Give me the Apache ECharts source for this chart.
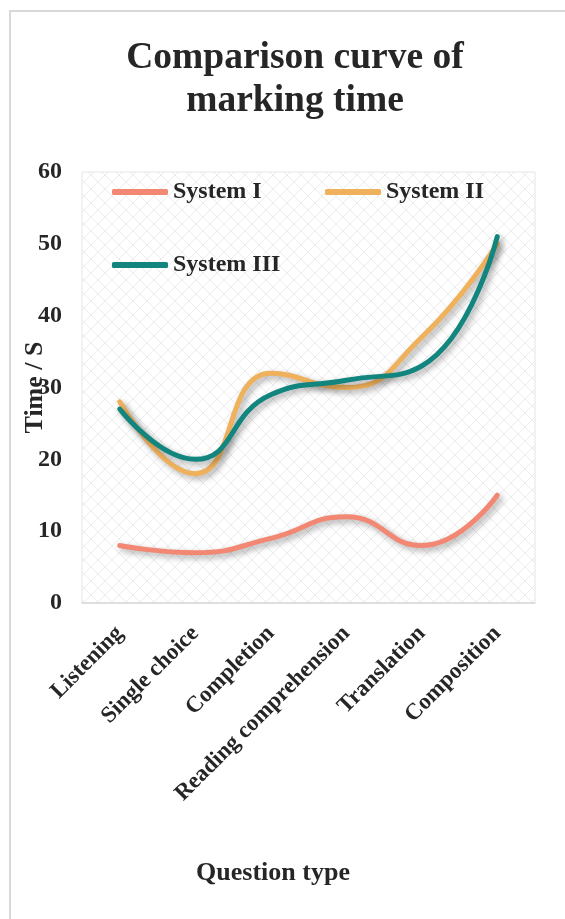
<!DOCTYPE html>
<html>
<head>
<meta charset="utf-8">
<script src="https://cdn.jsdelivr.net/npm/echarts@6/dist/echarts.min.js"></script>
<style>
  html, body { margin: 0; padding: 0; background: #fff; }
  #frame { position: absolute; left: 9px; top: 10px; width: 600px; height: 950px; border: 2px solid #d9d9d9; box-sizing: border-box; }
  #chart { position: absolute; left: 0; top: 0; width: 565px; height: 919px; }
</style>
</head>
<body>
<div id="frame"></div>
<div id="chart"></div>
<script>
// Question types along the x axis
const categories = ['Listening', 'Single choice', 'Completion', 'Reading comprehension', 'Translation', 'Composition'];
// Marking time (seconds) per system
const systemI = [8, 7, 9, 12, 8, 15];
const systemII = [28, 18, 32, 30, 37, 50];
const systemIII = [27, 20, 29, 31, 33, 51];
const yTicks = [0, 10, 20, 30, 40, 50, 60];

const FONT = '"Liberation Serif", "Times New Roman", serif';
const TEXT = '#262626';

// Light diagonal crosshatch for the plot background
function hatch() {
  const s = 14;
  const c = document.createElement('canvas');
  c.width = s; c.height = s;
  const g = c.getContext('2d');
  g.fillStyle = '#ffffff';
  g.fillRect(0, 0, s, s);
  g.strokeStyle = '#ececec';
  g.lineWidth = 1;
  g.beginPath();
  g.moveTo(0, 0); g.lineTo(s, s);
  g.moveTo(s, 0); g.lineTo(0, s);
  g.stroke();
  return c;
}

const chart = echarts.init(document.getElementById('chart'), null, { renderer: 'canvas' });

function lineSeries(name, data, color) {
  return {
    name: name,
    type: 'line',
    data: data,
    smooth: 0.5,
    showSymbol: false,
    color: color,
    lineStyle: {
      width: 5,
      color: color,
      cap: 'round',
      shadowColor: 'rgba(0,0,0,0.35)',
      shadowBlur: 6,
      shadowOffsetX: 3,
      shadowOffsetY: 3
    },
    emphasis: { disabled: true }
  };
}

const legendCommon = {
  icon: 'roundRect',
  itemWidth: 56,
  itemHeight: 6,
  itemGap: 4,
  textStyle: { fontFamily: FONT, fontSize: 24, fontWeight: 'bold', color: TEXT }
};

chart.setOption({
  animation: false,
  backgroundColor: 'transparent',
  title: [
    {
      text: 'Comparison curve of\nmarking time',
      left: 290,
      top: 32,
      textAlign: 'center',
      textStyle: { fontFamily: FONT, fontSize: 37.5, fontWeight: 'bold', color: TEXT, lineHeight: 43 }
    },
    {
      text: 'Question type',
      left: 268,
      top: 855,
      textAlign: 'center',
      textStyle: { fontFamily: FONT, fontSize: 26, fontWeight: 'bold', color: TEXT }
    }
  ],
  legend: [
    Object.assign({ data: ['System I'], left: 107, top: 175 }, legendCommon),
    Object.assign({ data: ['System II'], left: 320, top: 175 }, legendCommon),
    Object.assign({ data: ['System III'], left: 107, top: 248 }, legendCommon)
  ],
  grid: {
    left: 82,
    right: 30,
    top: 172,
    bottom: 316,
    containLabel: false,
    outerBoundsMode: 'none',
    show: true,
    borderColor: '#e6e6e6',
    borderWidth: 1,
    backgroundColor: { image: hatch(), repeat: 'repeat' }
  },
  xAxis: {
    type: 'category',
    data: categories,
    boundaryGap: true,
    axisLine: { lineStyle: { color: '#d9d9d9', width: 1.5 } },
    axisTick: { show: false },
    axisLabel: {
      rotate: 45,
      margin: 27,
      interval: 0,
      fontFamily: FONT,
      fontSize: 23,
      fontWeight: 'bold',
      color: TEXT
    }
  },
  yAxis: {
    type: 'value',
    min: yTicks[0],
    max: yTicks[yTicks.length - 1],
    interval: 10,
    name: 'Time / S',
    nameLocation: 'middle',
    nameGap: 47,
    nameMoveOverlap: false,
    nameRotate: 90,
    nameTextStyle: { fontFamily: FONT, fontSize: 26, fontWeight: 'bold', color: TEXT, verticalAlign: 'middle' },
    axisLine: { show: false },
    axisTick: { show: false },
    splitLine: { show: false },
    axisLabel: {
      margin: 20,
      fontFamily: FONT,
      fontSize: 24,
      fontWeight: 'bold',
      color: TEXT
    }
  },
  series: [
    lineSeries('System I', systemI, '#F28873'),
    lineSeries('System II', systemII, '#EFB15C'),
    lineSeries('System III', systemIII, '#12857F')
  ]
});
</script>
</body>
</html>
